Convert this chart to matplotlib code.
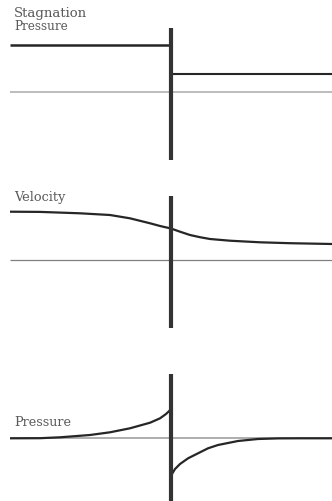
import matplotlib
matplotlib.use("Agg")
import matplotlib.pyplot as plt

# ---- data (x: -1 far upstream, 0 actuator disk, 1 far downstream) ----
stag_left = 4.7
stag_right = 1.8

vel_x = [-1.0, -0.814, -0.565, -0.379, -0.255, -0.130, -0.068, 0.0,
         0.056, 0.118, 0.180, 0.242, 0.366, 0.553, 0.739, 1.0]
vel_y = [4.83, 4.81, 4.67, 4.5, 4.17, 3.67, 3.4, 3.15,
         2.83, 2.5, 2.28, 2.1, 1.93, 1.77, 1.68, 1.6]

pres_left_x = [-1.0, -0.814, -0.689, -0.503, -0.379, -0.255, -0.130, -0.068,
               -0.031, 0.0]
pres_left_y = [0.0, 0.01, 0.1, 0.33, 0.6, 1.0, 1.56, 2.0, 2.43, 2.9]
pres_right_x = [0.006, 0.025, 0.056, 0.106, 0.168, 0.230, 0.292, 0.416, 0.540,
                0.665, 0.801, 1.0]
pres_right_y = [-3.57, -3.07, -2.57, -2.0, -1.5, -1.0, -0.67, -0.27, -0.07,
                -0.01, 0.0, 0.0]

disk_top = 6.4
disk_bottom = -6.8

labels = ["Stagnation", "Pressure", "Velocity", "Pressure"]

# ---- figure ----
W, H = 332, 501
fig = plt.figure(figsize=(W / 100, H / 100), dpi=100)
fig.patch.set_facecolor("white")

def make_ax(base_px):
    half = 70  # px
    bottom = (H - (base_px + half)) / H
    left = 10 / W
    ax = fig.add_axes([left, bottom, 1 - left, 2 * half / H])
    ax.set_xlim(-1, 1)
    ax.set_ylim(-7, 7)
    ax.axis("off")
    return ax

DARK = "#262626"
DISK = "#333333"
TXT = "#5a5a5a"
FONT = "DejaVu Serif"

# Panel 1: stagnation pressure
ax1 = make_ax(92)
ax1.plot([-1, 1], [0, 0], color="#b0b0b0", lw=1.2, solid_capstyle="butt")
ax1.plot([-1, 0], [stag_left, stag_left], color=DARK, lw=1.8, solid_capstyle="butt")
ax1.plot([0, 1], [stag_right, stag_right], color=DARK, lw=1.5, solid_capstyle="butt")
ax1.plot([0, 0], [disk_bottom, disk_top], color=DISK, lw=3.0, solid_capstyle="butt")
ax1.text(-0.975, 7.8, labels[0], fontsize=9.5, family=FONT, color=TXT, va="center", ha="left")
ax1.text(-0.975, 6.5, labels[1], fontsize=8.6, family=FONT, color=TXT, va="center", ha="left")

# Panel 2: velocity
ax2 = make_ax(260)
ax2.plot([-1, 1], [0, 0], color="#808080", lw=0.9, solid_capstyle="butt")
ax2.plot(vel_x, vel_y, color=DARK, lw=1.6)
ax2.plot([0, 0], [disk_bottom, disk_top], color=DISK, lw=3.0, solid_capstyle="butt")
ax2.text(-0.975, 6.3, labels[2], fontsize=9.3, family=FONT, color=TXT, va="center", ha="left")

# Panel 3: pressure
ax3 = make_ax(438.3)
ax3.plot([-1, 1], [0, 0], color="#a0a0a0", lw=1.2, solid_capstyle="butt")
ax3.plot(pres_left_x, pres_left_y, color=DARK, lw=1.6)
ax3.plot(pres_right_x, pres_right_y, color=DARK, lw=1.6)
ax3.plot([0, 0], [disk_bottom, disk_top], color=DISK, lw=3.0, solid_capstyle="butt")
ax3.text(-0.975, 1.63, labels[3], fontsize=9.2, family=FONT, color=TXT, va="center", ha="left")

fig.savefig("out.png", dpi=100, facecolor="white")
